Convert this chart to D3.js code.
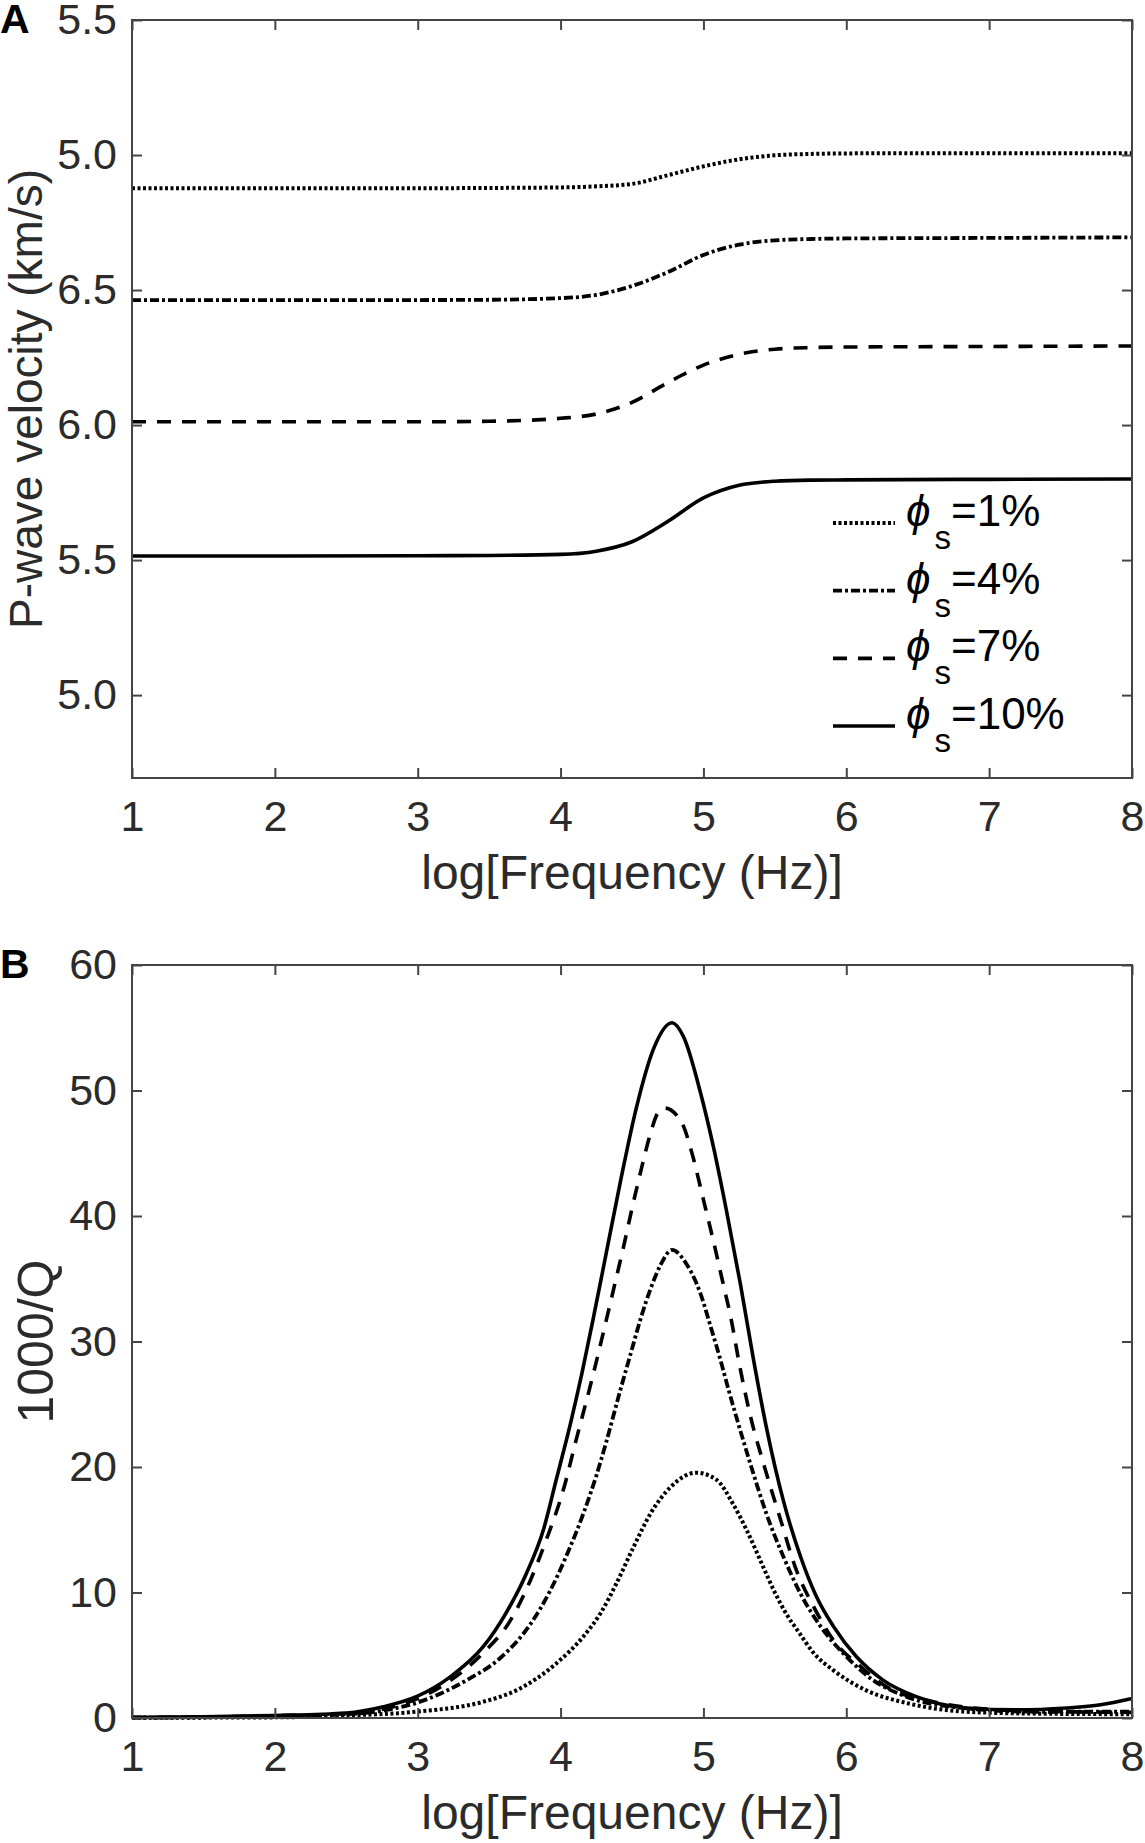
<!DOCTYPE html>
<html>
<head>
<meta charset="utf-8">
<title>P-wave velocity and attenuation</title>
<style>
  body { margin: 0; background: #fff; }
  svg text { font-family: "Liberation Sans", Arial, "DejaVu Sans", sans-serif; fill: #2b2b2b; }
</style>
</head>
<body>
<script src="https://d3js.org/d3.v7.min.js"></script>
<script>
// ---------- data ----------
var porosity = ["=1%", "=4%", "=7%", "=10%"];

// panel A : P-wave velocity (km/s) vs log frequency
var freqA    = [1, 2, 3, 3.5, 4, 4.25, 4.5, 4.75, 5, 5.25, 5.5, 5.75, 6, 7, 8];
var velPhi1  = [6.877, 6.877, 6.877, 6.878, 6.880, 6.884, 6.893, 6.925, 6.958, 6.984, 6.999, 7.004, 7.006, 7.007, 7.007];
var velPhi4  = [6.463, 6.463, 6.463, 6.464, 6.470, 6.482, 6.515, 6.566, 6.630, 6.668, 6.684, 6.689, 6.691, 6.693, 6.695];
var velPhi7  = [6.012, 6.012, 6.012, 6.014, 6.025, 6.041, 6.084, 6.157, 6.222, 6.262, 6.281, 6.287, 6.289, 6.291, 6.293];
var velPhi10 = [5.515, 5.515, 5.516, 5.517, 5.521, 5.533, 5.568, 5.643, 5.730, 5.777, 5.792, 5.796, 5.797, 5.799, 5.800];
var velTickValues = [5.0, 5.5, 6.0, 6.5, 7.0, 7.5];
var velTickLabels = ["5.0", "5.5", "6.0", "6.5", "5.0", "5.5"];   // as printed

// panel B : 1000/Q vs log frequency
var freqQ1 = [1, 2, 2.5, 2.99, 3.46, 3.69, 3.97, 4.16, 4.28, 4.39, 4.51, 4.63, 4.77, 4.95, 5.09, 5.21, 5.31, 5.42, 5.50, 5.58, 5.67, 5.77, 5.91, 6.14, 6.42, 6.84, 7.31, 8];
var q1     = [0.02, 0.05, 0.2, 0.5, 1.3, 2.2, 4.35, 6.5, 8.35, 10.7, 13.6, 16.3, 18.4, 19.55, 19.0, 17.0, 14.8, 12.0, 10.0, 8.3, 6.8, 5.2, 3.8, 2.2, 1.2, 0.5, 0.35, 0.3];
var freqQ4 = [1, 1.5, 2, 2.5, 2.76, 2.99, 3.34, 3.58, 3.79, 3.93, 4.04, 4.16, 4.25, 4.32, 4.42, 4.49, 4.56, 4.63, 4.70, 4.78, 4.88, 4.98, 5.05, 5.12, 5.17, 5.23, 5.33, 5.44, 5.56, 5.68, 5.82, 6.00, 6.19, 6.42, 6.84, 7.31, 8];
var q4     = [0.03, 0.06, 0.14, 0.3, 0.6, 1.2, 3.0, 4.8, 7.5, 10.2, 12.9, 16.3, 19.3, 22.0, 26.2, 29.0, 31.8, 34.2, 36.1, 37.3, 36.2, 33.8, 31.2, 28.5, 26.4, 24.0, 20.2, 16.3, 12.85, 9.9, 7.3, 4.9, 3.0, 1.7, 0.77, 0.5, 0.5];
var freqQ7 = [1, 1.5, 2, 2.5, 2.99, 3.23, 3.46, 3.65, 3.79, 3.90, 4.02, 4.11, 4.22, 4.32, 4.38, 4.44, 4.50, 4.56, 4.63, 4.68, 4.73, 4.85, 4.92, 5.00, 5.07, 5.13, 5.19, 5.26, 5.33, 5.42, 5.54, 5.65, 5.77, 5.91, 6.10, 6.28, 6.61, 7.08, 7.54, 8];
var q7     = [0.04, 0.08, 0.18, 0.35, 1.5, 3.0, 5.2, 7.8, 11.0, 14.2, 18.2, 22.2, 27.0, 31.7, 34.6, 37.5, 40.6, 43.5, 46.6, 48.2, 48.6, 47.4, 45.0, 41.3, 38.0, 35.0, 32.0, 27.7, 24.0, 20.3, 15.8, 11.8, 8.9, 6.2, 4.1, 2.5, 1.3, 0.64, 0.5, 0.45];
var freqQ10 = [1, 1.5, 2, 2.5, 2.76, 2.99, 3.23, 3.46, 3.62, 3.76, 3.88, 3.97, 4.07, 4.15, 4.23, 4.30, 4.42, 4.53, 4.65, 4.78, 4.86, 4.98, 5.07, 5.16, 5.26, 5.35, 5.44, 5.56, 5.68, 5.79, 5.91, 6.07, 6.26, 6.49, 6.84, 7.19, 7.54, 7.78, 8];
var q10     = [0.05, 0.1, 0.2, 0.4, 0.9, 1.7, 3.3, 5.7, 8.4, 11.5, 15.0, 19.0, 23.5, 27.5, 31.9, 35.9, 42.8, 48.6, 53.3, 55.4, 54.3, 49.8, 45.5, 40.5, 34.5, 28.6, 23.2, 17.3, 12.85, 9.7, 7.3, 4.9, 3.0, 1.7, 0.8, 0.65, 0.8, 1.05, 1.55];
var qTicks = [0, 10, 20, 30, 40, 50, 60];

var freqTicks = [1, 2, 3, 4, 5, 6, 7, 8];

// ---------- styles ----------
var dashes = ["3,2.5", "9,3,3,3", "14,11", null];
var widths = [4, 3.8, 3.6, 3.6];
var axisColor = "#454545";

var W = 1145, H = 1843;
var svg = d3.select("body").append("svg")
  .attr("width", W).attr("height", H);

svg.append("rect").attr("width", W).attr("height", H).attr("fill", "#fff");

var x = d3.scaleLinear().domain([1, 8]).range([132, 1132]);

function panel(o) {
  var y = d3.scaleLinear().domain(o.yDomain).range([o.bottom, o.top]);
  var g = svg.append("g");

  var line = d3.line()
    .x(function (d) { return x(d[0]); })
    .y(function (d) { return y(d[1]); })
    .curve(d3.curveMonotoneX);

  g.selectAll("path.curve")
    .data(o.series)
    .enter()
    .append("path")
    .attr("class", "curve")
    .attr("d", function (d) { return line(d3.zip(d.x, d.y)); })
    .attr("fill", "none")
    .attr("stroke", "#000")
    .attr("stroke-width", function (d, i) { return widths[i]; })
    .attr("stroke-dasharray", function (d, i) { return dashes[i]; });

  // frame
  g.append("rect")
    .attr("x", x.range()[0]).attr("y", o.top)
    .attr("width", x.range()[1] - x.range()[0])
    .attr("height", o.bottom - o.top)
    .attr("fill", "none")
    .attr("stroke", axisColor)
    .attr("stroke-width", 2);

  var bottomAxis = g.append("g")
    .attr("transform", "translate(0," + o.bottom + ")")
    .call(d3.axisBottom(x).tickValues(freqTicks).tickSize(-10).tickSizeOuter(0)
      .tickPadding(22).tickFormat(d3.format("d")));
  var topAxis = g.append("g")
    .attr("transform", "translate(0," + o.top + ")")
    .call(d3.axisTop(x).tickValues(freqTicks).tickSize(-10).tickSizeOuter(0).tickFormat(""));
  var leftAxis = g.append("g")
    .attr("transform", "translate(" + x.range()[0] + ",0)")
    .call(d3.axisLeft(y).tickValues(o.yTicks).tickSize(-10).tickSizeOuter(0)
      .tickPadding(15).tickFormat(function (d, i) { return o.yLabels[i]; }));
  var rightAxis = g.append("g")
    .attr("transform", "translate(" + x.range()[1] + ",0)")
    .call(d3.axisRight(y).tickValues(o.yTicks).tickSize(-10).tickSizeOuter(0).tickFormat(""));

  [bottomAxis, topAxis, leftAxis, rightAxis].forEach(function (a) {
    a.attr("color", axisColor);
    a.select(".domain").remove();
    a.selectAll(".tick line").attr("stroke-width", 2);
    a.selectAll("text").style("font-size", "43px");
  });

  // axis titles
  g.append("text")
    .attr("x", d3.mean(x.range()))
    .attr("y", o.bottom + 111)
    .attr("text-anchor", "middle")
    .style("font-size", "48px")
    .text("log[Frequency (Hz)]");

  g.append("text")
    .attr("transform", "translate(" + o.yTitleX + "," + ((o.top + o.bottom) / 2) + ") rotate(-90)")
    .attr("text-anchor", "middle")
    .style("font-size", o.yTitleSize + "px")
    .text(o.yTitle);

  g.append("text")
    .attr("x", 0).attr("y", o.top + 13)
    .style("font-size", "41px")
    .style("font-weight", "bold")
    .style("fill", "#000")
    .text(o.tag);

  return y;
}

panel({
  tag: "A",
  top: 20, bottom: 778,
  yDomain: [4.693, 7.5],
  yTicks: velTickValues, yLabels: velTickLabels,
  yTitle: "P-wave velocity (km/s)", yTitleX: 42, yTitleSize: 46,
  series: [
    { x: freqA, y: velPhi1 },
    { x: freqA, y: velPhi4 },
    { x: freqA, y: velPhi7 },
    { x: freqA, y: velPhi10 }
  ]
});

panel({
  tag: "B",
  top: 965, bottom: 1718,
  yDomain: [0, 60],
  yTicks: qTicks, yLabels: qTicks.map(String),
  yTitle: "1000/Q", yTitleX: 53, yTitleSize: 50,
  series: [
    { x: freqQ1, y: q1 },
    { x: freqQ4, y: q4 },
    { x: freqQ7, y: q7 },
    { x: freqQ10, y: q10 }
  ]
});

// ---------- legend (panel A) ----------
var rowY = d3.scalePoint().domain(porosity).range([523, 726]);
var legend = svg.append("g");
var rows = legend.selectAll("g.row")
  .data(porosity)
  .enter()
  .append("g")
  .attr("class", "row");

rows.append("line")
  .attr("x1", 833).attr("x2", 895)
  .attr("y1", function (d) { return rowY(d); })
  .attr("y2", function (d) { return rowY(d); })
  .attr("stroke", "#000")
  .attr("stroke-width", function (d, i) { return widths[i]; })
  .attr("stroke-dasharray", function (d, i) { return dashes[i]; });

var lt = rows.append("text")
  .attr("x", 906)
  .attr("y", function (d) { return rowY(d) + 3; })
  .style("font-size", "44px")
  .style("fill", "#000");
lt.append("tspan").style("font-style", "italic").text("\u03D5");
lt.append("tspan").attr("dx", 4).attr("dy", 23).style("font-size", "33px").text("s");
lt.append("tspan").attr("dy", -23).text(function (d) { return d; });
</script>
</body>
</html>
